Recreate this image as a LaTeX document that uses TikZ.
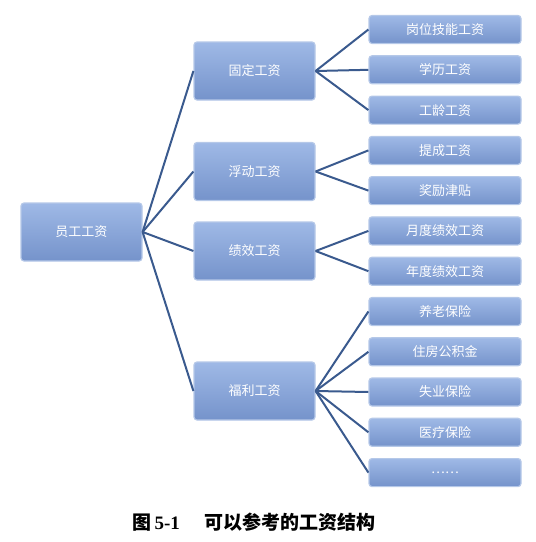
\documentclass[tikz,border=0pt]{standalone}
\usepackage{fontspec}
\newfontfamily\cjk{Noto Sans CJK SC}
\newfontfamily\capserif{Liberation Serif}
\definecolor{boxtop}{HTML}{9FB9E6}
\definecolor{boxbot}{HTML}{7593CB}
\definecolor{boxedge}{HTML}{B5C8E8}
\definecolor{linkblue}{HTML}{3A5A8E}
\tikzset{
  box/.style={rectangle, rounded corners=3pt, draw=boxedge, line width=1.2pt,
    top color=boxtop, bottom color=boxbot, text=white,
    font=\cjk\fontsize{13}{13}\selectfont, inner sep=0pt},
  lvlone/.style={box, minimum width=121pt, minimum height=58pt},
  lvltwo/.style={box, minimum width=152pt, minimum height=28pt},
  link/.style={draw=linkblue, line width=2pt}
}
\begin{document}
\begin{tikzpicture}[x=1pt,y=-1pt]
\useasboundingbox (0,0) rectangle (536,542);
\node[lvlone] (root) at (81.5,232) {员工工资};
\node[lvlone] (a) at (254.5,71) {固定工资};
\node[lvlone] (b) at (254.5,171.5) {浮动工资};
\node[lvlone] (c) at (254.5,251) {绩效工资};
\node[lvlone] (d) at (254.5,391) {福利工资};
\node[lvltwo] (a1) at (445,29.5) {岗位技能工资};
\node[lvltwo] (a2) at (445,69.8) {学历工资};
\node[lvltwo] (a3) at (445,110.1) {工龄工资};
\node[lvltwo] (b1) at (445,150.4) {提成工资};
\node[lvltwo] (b2) at (445,190.6) {奖励津贴};
\node[lvltwo] (c1) at (445,230.9) {月度绩效工资};
\node[lvltwo] (c2) at (445,271.2) {年度绩效工资};
\node[lvltwo] (d1) at (445,311.5) {养老保险};
\node[lvltwo] (d2) at (445,351.8) {住房公积金};
\node[lvltwo] (d3) at (445,392.0) {失业保险};
\node[lvltwo] (d4) at (445,432.3) {医疗保险};
\node[lvltwo] (d5) at (445,472.6) {……};
\foreach \t in {a,b,c,d} \draw[link] (root.east) -- (\t.west);
\foreach \t in {a1,a2,a3} \draw[link] (a.east) -- (\t.west);
\foreach \t in {b1,b2} \draw[link] (b.east) -- (\t.west);
\foreach \t in {c1,c2} \draw[link] (c.east) -- (\t.west);
\foreach \t in {d1,d2,d3,d4,d5} \draw[link] (d.east) -- (\t.west);
\node[font=\fontsize{19}{19}\selectfont\bfseries] (cap) at (254,522)
  {\cjk\bfseries 图\,\capserif\bfseries 5-1\hspace{1.3em}\cjk\bfseries 可以参考的工资结构};
\end{tikzpicture}
\end{document}
